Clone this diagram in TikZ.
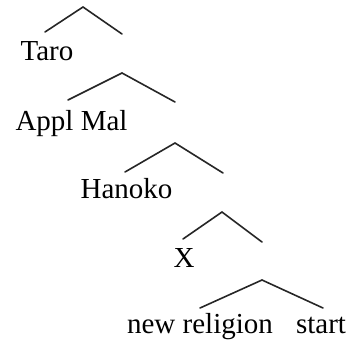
\documentclass[tikz,border=0pt]{standalone}
\usepackage{fontspec}
\setmainfont{Liberation Serif}
\begin{document}
\begin{tikzpicture}[x=1pt,y=-1pt,
  word/.style={inner sep=0pt,anchor=base,font=\fontsize{29}{32}\selectfont,text=black},
  branch/.style={line width=1.6pt,draw=black!85,line cap=round}]
\useasboundingbox (0,0) rectangle (347,343);
% tree 1
\coordinate (a1) at (83,7);
\coordinate (l1) at (45,32);
\coordinate (r1) at (122,34);
\node[word] (taro) at (47,60) {Taro};
\draw[branch] (l1) -- (a1) -- (r1);
% tree 2
\coordinate (a2) at (122,73);
\coordinate (l2) at (68,100);
\coordinate (r2) at (175,102);
\node[word] (appl) at (71.5,130) {Appl Mal};
\draw[branch] (l2) -- (a2) -- (r2);
% tree 3
\coordinate (a3) at (175,143);
\coordinate (l3) at (125,172);
\coordinate (r3) at (223,173);
\node[word] (hanoko) at (126.5,198) {Hanoko};
\draw[branch] (l3) -- (a3) -- (r3);
% tree 4
\coordinate (a4) at (222,212);
\coordinate (l4) at (183,239);
\coordinate (r4) at (262,242);
\node[word] (x) at (184,267) {X};
\draw[branch] (l4) -- (a4) -- (r4);
% tree 5
\coordinate (a5) at (262,280);
\coordinate (l5) at (200,308);
\coordinate (r5) at (323,308);
\node[word] (nr) at (200,333) {new religion};
\node[word] (start) at (321,333) {start};
\draw[branch] (l5) -- (a5) -- (r5);
\end{tikzpicture}
\end{document}
